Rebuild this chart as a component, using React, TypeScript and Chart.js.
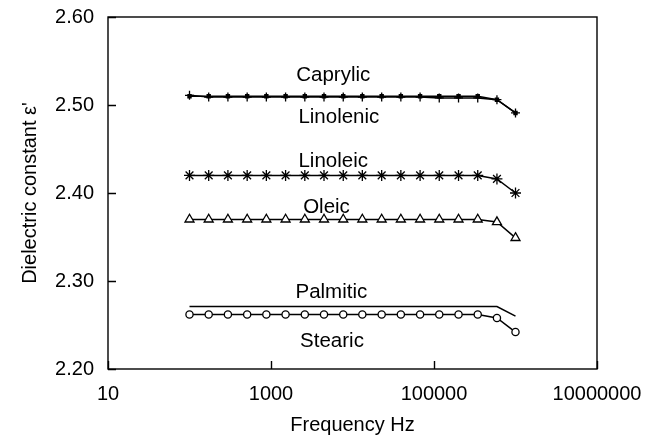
import React, { useEffect, useRef } from 'react';
import { Chart, registerables } from 'chart.js';

Chart.register(...registerables);

// Frequencies (Hz) of the measured points
const frequencies = [100, 172, 296, 510, 877, 1510, 2600, 4470, 7700, 13200, 22800, 39200, 67500, 116000, 200000, 344000, 592000, 1000000];

// Dielectric constant per oil
const caprylic = [2.511, 2.509, 2.509, 2.509, 2.509, 2.509, 2.509, 2.509, 2.509, 2.509, 2.509, 2.509, 2.509, 2.508, 2.508, 2.508, 2.506, 2.491];
const linolenic = [2.510, 2.510, 2.510, 2.510, 2.510, 2.510, 2.510, 2.510, 2.510, 2.510, 2.510, 2.510, 2.510, 2.510, 2.510, 2.510, 2.506, 2.491];
const linoleic = [2.420, 2.420, 2.420, 2.420, 2.420, 2.420, 2.420, 2.420, 2.420, 2.420, 2.420, 2.420, 2.420, 2.420, 2.420, 2.420, 2.416, 2.400];
const oleic = [2.370, 2.370, 2.370, 2.370, 2.370, 2.370, 2.370, 2.370, 2.370, 2.370, 2.370, 2.370, 2.370, 2.370, 2.370, 2.370, 2.367, 2.349];
const palmitic = [2.271, 2.271, 2.271, 2.271, 2.271, 2.271, 2.271, 2.271, 2.271, 2.271, 2.271, 2.271, 2.271, 2.271, 2.271, 2.271, 2.271, 2.260];
const stearic = [2.262, 2.262, 2.262, 2.262, 2.262, 2.262, 2.262, 2.262, 2.262, 2.262, 2.262, 2.262, 2.262, 2.262, 2.262, 2.262, 2.258, 2.242];

// Axis ticks
const xTickValues = [10, 1000, 100000, 10000000];
const yTickValues = [2.2, 2.3, 2.4, 2.5, 2.6];

// In-plot series names, anchored in data units (frequency, value at text baseline)
const labelNames = ['Caprylic', 'Linolenic', 'Linoleic', 'Oleic', 'Palmitic', 'Stearic'];
const labelFreqs = [5800, 6800, 5800, 4800, 5500, 5600];
const labelValues = [2.527, 2.479, 2.43, 2.377, 2.281, 2.225];

const FONT = '"Liberation Sans", Arial, Helvetica, sans-serif';

const pts = (vals: number[]) => vals.map((v, i) => ({ x: frequencies[i], y: v }));

const framePlugin = {
  id: 'frameAndLabels',
  afterDraw(chart: any) {
    const { ctx, chartArea: a, scales } = chart;
    ctx.save();
    ctx.strokeStyle = '#000';
    ctx.lineWidth = 1.4;
    ctx.strokeRect(a.left, a.top, a.right - a.left, a.bottom - a.top);
    ctx.beginPath();
    xTickValues.forEach((v) => {
      const px = Math.round(scales.x.getPixelForValue(v)) + 0.5;
      ctx.moveTo(px, a.bottom);
      ctx.lineTo(px, a.bottom - 8);
    });
    yTickValues.forEach((v) => {
      const py = Math.round(scales.y.getPixelForValue(v)) + 0.5;
      ctx.moveTo(a.left, py);
      ctx.lineTo(a.left + 8, py);
    });
    ctx.stroke();
    ctx.fillStyle = '#000';
    ctx.font = '20.5px ' + FONT;
    ctx.textAlign = 'center';
    ctx.textBaseline = 'alphabetic';
    labelNames.forEach((n, i) => {
      ctx.fillText(n, scales.x.getPixelForValue(labelFreqs[i]), scales.y.getPixelForValue(labelValues[i]));
    });
    ctx.restore();
  },
};

export default function App() {
  const ref = useRef<HTMLCanvasElement>(null);
  useEffect(() => {
    if (!ref.current) return;
    const common = {
      showLine: true,
      borderColor: '#000',
      borderWidth: 1.5,
      tension: 0,
      pointBorderColor: '#000',
      pointBorderWidth: 1.3,
    };
    const chart = new Chart(ref.current, {
      type: 'scatter',
      data: {
        datasets: [
          { ...common, label: 'Palmitic', data: pts(palmitic), pointRadius: 0 },
          { ...common, label: 'Stearic', data: pts(stearic), pointStyle: 'circle', pointRadius: 3.6, pointBackgroundColor: '#fff' },
          { ...common, label: 'Oleic', data: pts(oleic), pointStyle: 'triangle', pointRadius: 5.2, pointBackgroundColor: '#fff' },
          { ...common, label: 'Linoleic', data: pts(linoleic), pointStyle: 'star', pointRadius: 5.5, pointBackgroundColor: '#000' },
          { ...common, label: 'Linolenic', data: pts(linolenic), pointStyle: 'rect', pointRadius: 2.2, pointBackgroundColor: '#000' },
          { ...common, label: 'Caprylic', data: pts(caprylic), pointStyle: 'cross', pointRadius: 4.5, pointBackgroundColor: '#000' },
        ],
      },
      options: {
        responsive: false,
        animation: false,
        devicePixelRatio: 1,
        layout: { padding: { left: 0, top: 17, right: 48, bottom: 0 } },
        plugins: { legend: { display: false }, tooltip: { enabled: false } },
        scales: {
          x: {
            type: 'logarithmic',
            min: 10,
            max: 10000000,
            grid: { display: false, drawTicks: false },
            border: { display: false },
            afterBuildTicks: (s: any) => {
              s.ticks = xTickValues.map((v) => ({ value: v }));
            },
            afterFit: (s: any) => {
              s.height = 71;
              s.paddingLeft = 0;
              s.paddingRight = 0;
              s.paddingTop = 0;
              s.paddingBottom = 0;
            },
            ticks: {
              autoSkip: false,
              maxRotation: 0,
              padding: 13,
              color: '#000',
              font: { family: FONT, size: 20 },
              callback: (v: any) => String(v),
            },
            title: {
              display: true,
              text: 'Frequency Hz',
              color: '#000',
              font: { family: FONT, size: 20 },
              padding: { top: 0, bottom: 3 },
            },
          },
          y: {
            type: 'linear',
            min: 2.2,
            max: 2.6,
            grid: { display: false, drawTicks: false },
            border: { display: false },
            afterBuildTicks: (s: any) => {
              s.ticks = yTickValues.map((v) => ({ value: v }));
            },
            afterFit: (s: any) => {
              s.width = 108;
              s.paddingLeft = 0;
              s.paddingRight = 0;
              s.paddingTop = 0;
              s.paddingBottom = 0;
            },
            ticks: {
              padding: 14,
              color: '#000',
              font: { family: FONT, size: 20 },
              callback: (v: any) => Number(v).toFixed(2),
            },
            title: {
              display: true,
              text: "Dielectric constant ε'",
              color: '#000',
              font: { family: FONT, size: 20 },
              padding: { top: 18, bottom: 0 },
            },
          },
        },
      },
      plugins: [framePlugin],
    } as any);
    return () => chart.destroy();
  }, []);
  return (
    <div style={{ position: 'absolute', left: 0, top: 0, width: 645, height: 440, background: '#fff' }}>
      <canvas ref={ref} width={645} height={440} />
    </div>
  );
}
